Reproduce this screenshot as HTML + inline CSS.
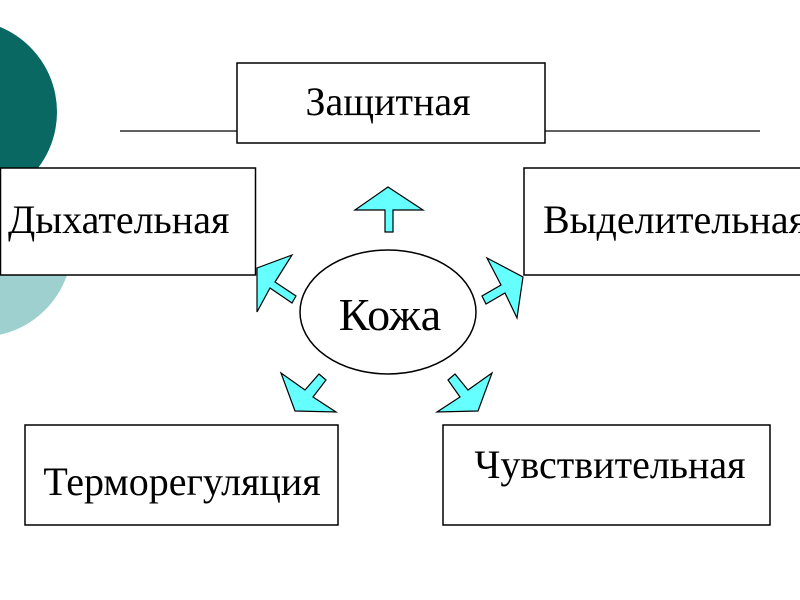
<!DOCTYPE html>
<html><head><meta charset="utf-8"><style>
html,body{margin:0;padding:0;background:#fff;width:800px;height:600px;overflow:hidden}
svg{display:block}
text{font-family:"Liberation Serif",serif;fill:#000}
</style></head><body>
<svg width="800" height="600" viewBox="0 0 800 600">
<circle cx="-20" cy="245" r="92" fill="#9fd0d0"/>
<circle cx="-35" cy="112" r="92" fill="#0a6862"/>
<line x1="120" y1="131" x2="760" y2="131" stroke="#000" stroke-width="1.2"/>
<rect x="237" y="63" width="308" height="80" fill="#fff" stroke="#000" stroke-width="1.5"/>
<text x="388" y="115" font-size="40" text-anchor="middle">Защитная</text>
<rect x="0.5" y="168" width="255" height="107" fill="#fff" stroke="#000" stroke-width="1.5"/>
<text x="8" y="233" font-size="40">Дыхательная</text>
<rect x="524" y="168" width="290" height="107" fill="#fff" stroke="#000" stroke-width="1.5"/>
<text x="543" y="233" font-size="40">Выделительная</text>
<rect x="25" y="425" width="313" height="100" fill="#fff" stroke="#000" stroke-width="1.5"/>
<text x="182" y="495" font-size="40" text-anchor="middle">Терморегуляция</text>
<rect x="443" y="425" width="327" height="100" fill="#fff" stroke="#000" stroke-width="1.5"/>
<text x="610" y="478" font-size="40" text-anchor="middle">Чувствительная</text>
<ellipse cx="388" cy="312" rx="88" ry="62" fill="#fff" stroke="#000" stroke-width="1.5"/>
<text x="390" y="330" font-size="46" text-anchor="middle">Кожа</text>
<g fill="#66ffff" stroke="#000" stroke-width="1.2" stroke-linejoin="miter">
<polygon points="355,210 388,187 423,210 393,210 393,232 385,232 385,210"/>
<polygon points="292,255 257,268 257,312 270,288 292,303 296,296 275,282"/>
<polygon points="487,258 523,277 517,318 505,293 486,304 482,296 501,285"/>
<polygon points="281,373 295,411 336,412 313,397 326,380 319,374 305,390"/>
<polygon points="492,373 478,411 437,412 460,397 448,380 455,374 468,390"/>
</g>
</svg>
</body></html>
